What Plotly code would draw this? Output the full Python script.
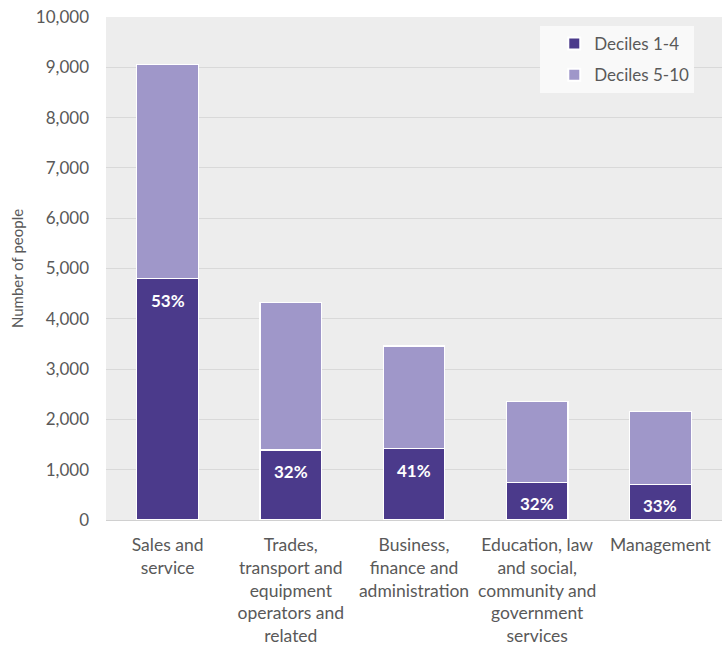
import plotly.graph_objects as go

categories = [
    "Sales and<br>service",
    "Trades,<br>transport and<br>equipment<br>operators and<br>related",
    "Business,<br>finance and<br>administration",
    "Education, law<br>and social,<br>community and<br>government<br>services",
    "Management",
]
deciles_1_4 = [4800, 1390, 1420, 750, 710]
deciles_5_10 = [4250, 2930, 2040, 1600, 1440]

totals = [a + b for a, b in zip(deciles_1_4, deciles_5_10)]
share_labels = [f"{round(100 * a / t)}%" for a, t in zip(deciles_1_4, totals)]

font_family = "Lato, Open Sans, sans-serif"
text_grey = "#595959"

fig = go.Figure()
fig.add_trace(go.Bar(
    name="Deciles 1-4",
    legendgroup="d14",
    x=categories,
    y=deciles_1_4,
    marker=dict(color="#4B3A8B", line=dict(color="white", width=1.2)),
))
fig.add_trace(go.Bar(
    name="Deciles 5-10",
    legendgroup="d510",
    x=categories,
    y=deciles_5_10,
    marker=dict(color="#9F97C9", line=dict(color="white", width=1.2)),
))

# share of the lower deciles, written just under the top of each dark segment
for cat, val, lab in zip(categories, deciles_1_4, share_labels):
    fig.add_annotation(
        x=cat, y=val, text=f"<b>{lab}</b>",
        showarrow=False, yanchor="top", yshift=-9,
        font=dict(color="white", size=17, family=font_family),
    )

fig.update_layout(
    barmode="stack",
    bargap=0.5,
    width=722,
    height=650,
    margin=dict(l=106, r=0, t=17, b=130),
    paper_bgcolor="white",
    plot_bgcolor="#EDEDED",
    font=dict(family=font_family, size=17, color=text_grey),
    showlegend=True,
    legend=dict(
        traceorder="grouped",
        x=0.705, y=0.982, xanchor="left", yanchor="top",
        bgcolor="#F9F9F9",
        font=dict(size=17, color=text_grey),
        itemsizing="constant",
        itemwidth=30,
        tracegroupgap=6,
        indentation=14,
        entrywidth=140,
    ),
    yaxis=dict(
        range=[0, 10000],
        tickvals=list(range(0, 10001, 1000)),
        tickformat=",d",
        tickfont=dict(size=17),
        gridcolor="#D9D9D9",
        gridwidth=1,
        zeroline=False,
        ticks="",
        ticklabelstandoff=16,
        title=dict(text="Number of people", font=dict(size=15, color=text_grey), standoff=8),
    ),
    xaxis=dict(
        showline=True,
        linecolor="#D0D0D0",
        linewidth=1,
        ticks="",
        tickangle=0,
        ticklabelstandoff=9,
        tickfont=dict(size=17.5),
    ),
)

fig.write_html("out.html")
